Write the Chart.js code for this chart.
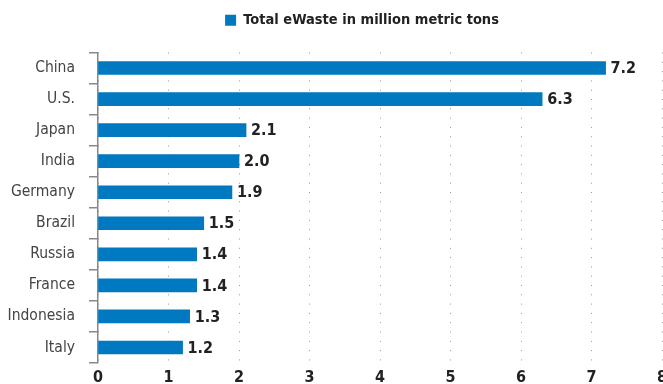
<!DOCTYPE html>
<html>
<head>
<meta charset="utf-8">
<script src="https://cdn.jsdelivr.net/npm/chart.js"></script>
<style>
  html, body { margin: 0; padding: 0; background: #fff; }
  #wrap { width: 663px; height: 384px; }
</style>
</head>
<body>
<div id="wrap"><canvas id="myChart" width="663" height="384"></canvas></div>
<script>
// data
const countries = ["China", "U.S.", "Japan", "India", "Germany", "Brazil", "Russia", "France", "Indonesia", "Italy"];
const eWaste = [7.2, 6.3, 2.1, 2.0, 1.9, 1.5, 1.4, 1.4, 1.3, 1.2];
const seriesLabel = "Total eWaste in million metric tons";
const xTicks = [0, 1, 2, 3, 4, 5, 6, 7, 8];

const blue = "#0079c1";
const numFont = "'DejaVu Sans Condensed', 'DejaVu Sans', sans-serif";

// value labels at the end of each bar
const valueLabels = {
  id: "valueLabels",
  afterDatasetsDraw(chart) {
    const ctx = chart.ctx;
    const meta = chart.getDatasetMeta(0);
    ctx.save();
    ctx.font = "bold 16px " + numFont;
    ctx.fillStyle = "#222";
    ctx.textAlign = "left";
    ctx.textBaseline = "middle";
    meta.data.forEach((bar, i) => {
      ctx.fillText(eWaste[i].toFixed(1), bar.x + 5, bar.y + 1);
    });
    ctx.restore();
  }
};

// legend sits a bit right of centre and has extra room below it
const legendTweak = {
  id: "legendTweak",
  beforeLayout(chart) {
    const lg = chart.legend;
    if (lg && !lg._tweaked) {
      const fit = lg.fit.bind(lg);
      lg.fit = function () {
        fit();
        this.height += 15;
      };
      lg._tweaked = true;
    }
  },
  afterLayout(chart) {
    chart.legend.left += 31;
    chart.legend.right += 31;
  }
};

new Chart(document.getElementById("myChart").getContext("2d"), {
  type: "bar",
  data: {
    labels: countries,
    datasets: [{
      label: seriesLabel,
      data: eWaste,
      backgroundColor: blue,
      borderWidth: 0,
      barThickness: 13
    }]
  },
  options: {
    indexAxis: "y",
    responsive: false,
    animation: false,
    layout: { padding: { top: 1, right: 1, bottom: 0, left: 0 } },
    scales: {
      x: {
        min: 0,
        max: 8,
        afterBuildTicks(scale) {
          scale.ticks = xTicks.map((v) => ({ value: v }));
        },
        afterFit(scale) {
          scale.paddingRight = 0;
          scale.height = 21;
        },
        border: { display: false, dash: [1, 8.3] },
        grid: {
          color: "#999",
          lineWidth: 1,
          drawTicks: false
        },
        ticks: {
          padding: 5,
          color: "#222",
          maxRotation: 0,
          font: { family: numFont, size: 16, weight: "bold" }
        }
      },
      y: {
        afterFit(scale) {
          scale.width = 98;
          scale.paddingTop = 0;
          scale.paddingBottom = 0;
        },
        border: { color: "#888", width: 1.5 },
        grid: {
          offset: true,
          drawOnChartArea: false,
          color: "#888",
          lineWidth: 1.5,
          tickLength: 9
        },
        ticks: {
          padding: 14,
          color: "#444",
          font: { family: "'Liberation Sans Narrow', 'DejaVu Sans Condensed', sans-serif", size: 15.5 }
        }
      }
    },
    plugins: {
      legend: {
        display: true,
        position: "top",
        labels: {
          boxWidth: 11,
          boxHeight: 11,
          padding: 12,
          color: "#222",
          font: { family: numFont, size: 14.5, weight: "bold" }
        }
      },
      tooltip: { enabled: false }
    }
  },
  plugins: [valueLabels, legendTweak]
});
</script>
</body>
</html>
